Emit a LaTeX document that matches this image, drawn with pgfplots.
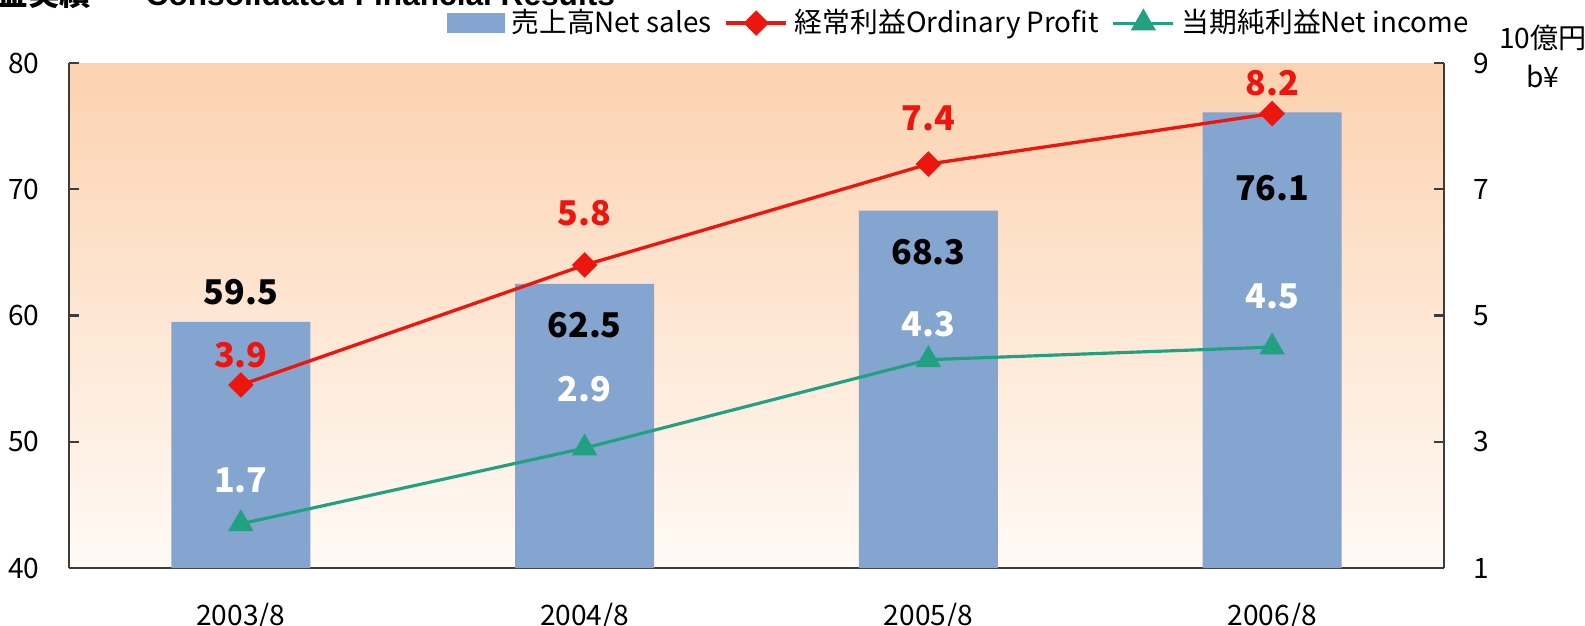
\documentclass[border=0pt]{standalone}
\usepackage{fontspec}
\setmainfont{Noto Sans CJK JP}
\newfontfamily\titlefont{Liberation Sans}
\usepackage{pgfplots}
\pgfplotsset{compat=1.18}
\definecolor{barblue}{RGB}{132,165,208}
\definecolor{ordred}{RGB}{236,22,14}
\definecolor{netgreen}{RGB}{34,160,130}
\definecolor{bgtop}{RGB}{252,210,176}
\definecolor{bgbot}{RGB}{255,250,246}
\definecolor{axgray}{RGB}{60,60,60}

\begin{document}
\begin{tikzpicture}
\tikzset{lab/.style={font=\fontsize{9.7}{11}\selectfont\bfseries, inner sep=0pt}}
\pgfplotsset{
  base/.style={
    width=137.5mm, height=50.5mm, scale only axis,
    at={(0,0)}, anchor=south west,
    xmin=-0.5, xmax=3.5,
    /pgf/number format/assume math mode=true,
    tick label style={font=\fontsize{8}{10}\selectfont, color=black},
    axis line style={axgray, line width=0.6pt},
    major tick style={axgray, line width=0.6pt},
    major tick length=1mm,
    tick align=inside,
  },
}
% left axis: net sales (bars)
\begin{axis}[base,
  ymin=40, ymax=80, ytick={40,50,...,80},
  axis x line*=bottom, axis y line*=left,
  axis background/.style={top color=bgtop, bottom color=bgbot},
  xtick={0,1,2,3},
  xticklabels={2003/8,2004/8,2005/8,2006/8},
  x tick style={draw=none},
  xticklabel style={yshift=-2.3mm},
  extra x ticks={0.5,1.5,2.5},
  extra x tick labels={},
  extra x tick style={tick style={axgray, draw=axgray}},
  yticklabel style={xshift=-1.7mm},
]
\addplot[ybar, bar width=13.9mm, bar shift=0pt, fill=barblue, draw=none]
  coordinates {(0,59.5) (1,62.5) (2,68.3) (3,76.1)};
\node[lab] at (axis cs:0,61.86) {59.5};
\node[lab] at (axis cs:1,59.2) {62.5};
\node[lab] at (axis cs:2,65.05) {68.3};
\node[lab] at (axis cs:3,70.09) {76.1};
\end{axis}

% right axis: profits (lines)
\begin{axis}[base,
  ymin=1, ymax=9, ytick={1,3,5,7,9},
  axis y line*=right, axis x line=none,
  yticklabel style={xshift=1.7mm},
  legend style={at={(rel axis cs:0.649,1.079)}, anchor=center,
    draw=none, fill=none, font=\fontsize{7.9}{9}\selectfont,
    legend columns=3, inner sep=0pt,
    /tikz/every even column/.append style={column sep=0.6mm}},
  legend image code/.code={
    \draw[mark repeat=2, mark phase=2] plot coordinates {(0mm,0mm) (3mm,0mm) (6mm,0mm)};},
]
\addlegendimage{legend image code/.code={\fill[barblue] (0mm,-0.9mm) rectangle (5.6mm,0.9mm);}}
\addlegendentry{売上高Net sales}
\addplot[ordred, line width=0.95pt, mark=square*, mark size=0.74mm, mark options={rotate=45}]
  coordinates {(0,3.9) (1,5.8) (2,7.4) (3,8.2)};
\addlegendentry{経常利益Ordinary Profit}
\addplot[netgreen, line width=0.9pt, mark=triangle*, mark size=1.15mm]
  coordinates {(0,1.7) (1,2.9) (2,4.3) (3,4.5)};
\addlegendentry{当期純利益Net income}
\node[lab, ordred] at (axis cs:0,4.37) {3.9};
\node[lab, ordred] at (axis cs:1,6.63) {5.8};
\node[lab, ordred] at (axis cs:2,8.12) {7.4};
\node[lab, ordred] at (axis cs:3,8.68) {8.2};
\node[lab, white] at (axis cs:0,2.39) {1.7};
\node[lab, white] at (axis cs:1,3.83) {2.9};
\node[lab, white] at (axis cs:2,4.86) {4.3};
\node[lab, white] at (axis cs:3,5.30) {4.5};
\end{axis}

% title (cut off at the top edge) and unit label
\node[anchor=base east, inner sep=0pt, font=\fontsize{9}{11}\selectfont\bfseries] at (2.3mm,56.3mm) {損益実績};
\node[anchor=base west, inner sep=0pt, font=\titlefont\fontsize{9}{11}\selectfont\bfseries] at (7.6mm,56.3mm) {Consolidated Financial Results};
\node[inner sep=0pt, font=\fontsize{8}{10}\selectfont] at (147.4mm,53.0mm) {10億円};
\node[inner sep=0pt, font=\fontsize{8}{10}\selectfont] at (147.4mm,49.2mm) {b¥};

\pgfresetboundingbox
\useasboundingbox (-6.9mm,-5.7mm) rectangle (151.6mm,56.8mm);
\end{tikzpicture}
\end{document}
